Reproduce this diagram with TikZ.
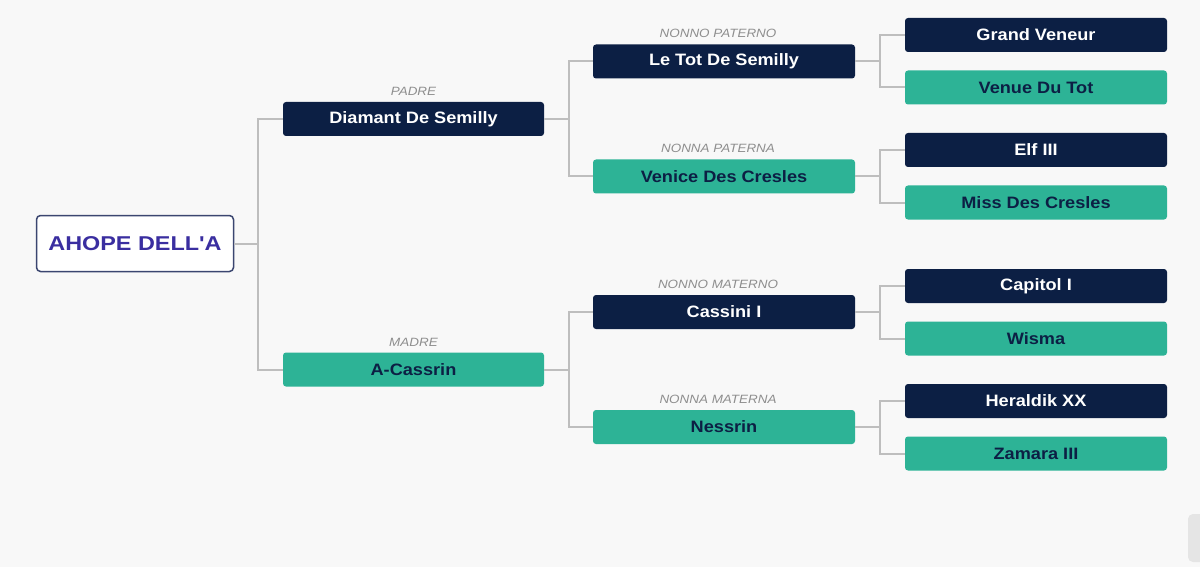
\documentclass[tikz,border=0pt]{standalone}
\usepackage{fontspec}
\setmainfont{Liberation Sans}
\newfontfamily\rootfont[FakeStretch=1.17]{Liberation Sans}
\newfontfamily\boxfont[FakeStretch=1.1]{Liberation Sans}
\newfontfamily\labfont[FakeStretch=1.12]{Liberation Sans}
\definecolor{navy}{HTML}{0C1F44}
\definecolor{teal}{HTML}{2DB396}
\definecolor{bgc}{HTML}{F8F8F8}
\definecolor{linec}{HTML}{BEBEBE}
\definecolor{labc}{HTML}{8E8E8E}
\definecolor{rootbd}{HTML}{3B4670}
\definecolor{roottx}{HTML}{3A2EA0}
\tikzset{
  box/.style={rounded corners=3pt, minimum height=34pt, inner sep=0pt, font=\boxfont\fontsize{16.5}{18}\selectfont\bfseries},
  navybox/.style={box, fill=navy, text=white},
  tealbox/.style={box, fill=teal, text=navy},
  w1/.style={minimum width=261pt},
  w2/.style={minimum width=262pt},
  rolelab/.style={anchor=south, text=labc, inner sep=0pt, font=\labfont\fontsize{12}{14}\selectfont\itshape},
  conn/.style={draw=linec, line width=2pt},
}
\begin{document}
\begin{tikzpicture}[x=1pt, y=-1pt]
\useasboundingbox (0,0) rectangle (1200,567);
\fill[bgc] (0,0) rectangle (1200,567);
% root
\node[draw=rootbd, line width=1.5pt, fill=white, rounded corners=4pt, minimum width=197pt, minimum height=56pt, inner sep=0pt, text=roottx, font=\rootfont\fontsize{20}{22}\selectfont\bfseries] (root) at (135,243.5) {AHOPE DELL'A};
% level 1
\node[navybox, w1] (dia) at (413.5,119) {Diamant De Semilly};
\node[tealbox, w1] (cas) at (413.5,369.5) {A-Cassrin};
% level 2
\node[navybox, w2] (tot) at (724,61.5) {Le Tot De Semilly};
\node[tealbox, w2] (ven) at (724,176.5) {Venice Des Cresles};
\node[navybox, w2] (csi) at (724,312) {Cassini I};
\node[tealbox, w2] (nes) at (724,427) {Nessrin};
% level 3
\node[navybox, w2] (gv) at (1036,35) {Grand Veneur};
\node[tealbox, w2] (vdt) at (1036,87.5) {Venue Du Tot};
\node[navybox, w2] (elf) at (1036,150) {Elf III};
\node[tealbox, w2] (mdc) at (1036,202.5) {Miss Des Cresles};
\node[navybox, w2] (cap) at (1036,286) {Capitol I};
\node[tealbox, w2] (wis) at (1036,338.5) {Wisma};
\node[navybox, w2] (her) at (1036,401) {Heraldik XX};
\node[tealbox, w2] (zam) at (1036,453.5) {Zamara III};
% role labels
\node[rolelab] (lpadre) at ([yshift=6pt]dia.north) {PADRE};
\node[rolelab] (lmadre) at ([yshift=6pt]cas.north) {MADRE};
\node[rolelab] (lnp) at ([xshift=-6pt,yshift=6pt]tot.north) {NONNO PATERNO};
\node[rolelab] (lnap) at ([xshift=-6pt,yshift=6pt]ven.north) {NONNA PATERNA};
\node[rolelab] (lnm) at ([xshift=-6pt,yshift=6pt]csi.north) {NONNO MATERNO};
\node[rolelab] (lnam) at ([xshift=-6pt,yshift=6pt]nes.north) {NONNA MATERNA};
% connectors
\draw[conn] (root.east) -- ++(24,0) |- (dia.west);
\draw[conn] (root.east) -- ++(24,0) |- (cas.west);
\draw[conn] (dia.east) -- ++(24.5,0) |- (tot.west);
\draw[conn] (dia.east) -- ++(24.5,0) |- (ven.west);
\draw[conn] (cas.east) -- ++(24.5,0) |- (csi.west);
\draw[conn] (cas.east) -- ++(24.5,0) |- (nes.west);
\draw[conn] (tot.east) -- ++(25,0) |- (gv.west);
\draw[conn] (tot.east) -- ++(25,0) |- (vdt.west);
\draw[conn] (ven.east) -- ++(25,0) |- (elf.west);
\draw[conn] (ven.east) -- ++(25,0) |- (mdc.west);
\draw[conn] (csi.east) -- ++(25,0) |- (cap.west);
\draw[conn] (csi.east) -- ++(25,0) |- (wis.west);
\draw[conn] (nes.east) -- ++(25,0) |- (her.west);
\draw[conn] (nes.east) -- ++(25,0) |- (zam.west);
% scroll tab at bottom right
\fill[gray!20, rounded corners=5pt] (1188,514) rectangle (1210,562);
\end{tikzpicture}
\end{document}
